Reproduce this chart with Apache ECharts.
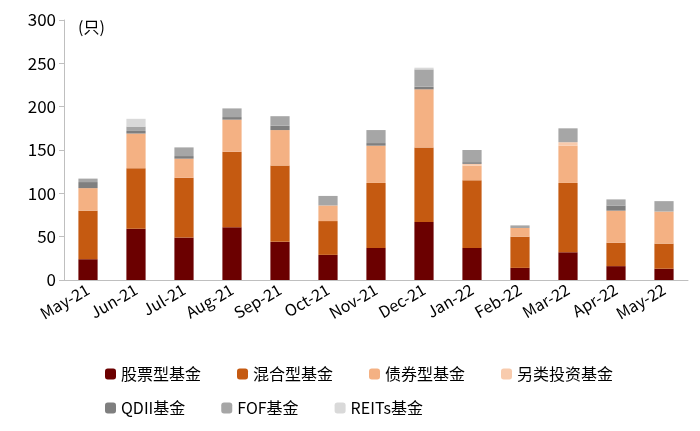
<!DOCTYPE html>
<html><head><meta charset="utf-8">
<script src="https://cdn.jsdelivr.net/npm/echarts@6/dist/echarts.min.js"></script>
<style>html,body{margin:0;padding:0;background:#fff}#c{width:700px;height:431px}</style>
</head><body><div id="c"></div>
<script>
const categories=['May-21','Jun-21','Jul-21','Aug-21','Sep-21','Oct-21','Nov-21','Dec-21','Jan-22','Feb-22','Mar-22','Apr-22','May-22'];
const stock=[24,59,49,61,44,29,37,67,37,14,32,16,13];
const mixed=[56,70,69,87,88,39,75,86,78,36,80,27,29];
const bond=[26,40,22,37,41,18,43,67,17,10,43,37,37];
const other=[0,0,0,0,0,0,0,0,2,0,4,0,0];
const qdii=[7,3,3,3,5,0,3,3,2,0,0,6,0];
const fof=[4,5,10,10,11,11,15,20,14,3,16,7,12];
const reits=[0,9,0,0,0,0,0,2,0,0,0,0,0];
const names=['股票型基金','混合型基金','债券型基金','另类投资基金','QDII基金','FOF基金','REITs基金'];
const colors=['#6B0000','#C55A11','#F4B183','#F8CBAD','#7F7F7F','#A6A6A6','#D9D9D9'];
const data=[stock,mixed,bond,other,qdii,fof,reits];
const font='"Noto Sans CJK SC","Noto Sans",sans-serif';
const chart=echarts.init(document.getElementById('c'));
const lg={itemWidth:11,itemHeight:11,itemGap:36,textStyle:{fontSize:16,color:'#000',fontFamily:font}};
chart.setOption({
  animation:false,
  grid:{left:64,right:12,top:20,bottom:151},
  graphic:[{type:'text',left:78,top:19,style:{text:'(只)',fontSize:16,fill:'#000',fontFamily:font}}],
  legend:[Object.assign({top:361,left:100,data:names.slice(0,4)},lg),
          Object.assign({top:395,left:100,data:names.slice(4)},lg)],
  xAxis:{type:'category',data:categories,
    axisLine:{lineStyle:{color:'#BFBFBF'}},axisTick:{lineStyle:{color:'#BFBFBF'},length:5},
    axisLabel:{rotate:30,fontSize:16,color:'#000',fontFamily:font,interval:0,margin:8}},
  yAxis:{type:'value',min:0,max:300,interval:50,
    axisLine:{show:true,lineStyle:{color:'#BFBFBF'}},axisTick:{show:true,lineStyle:{color:'#BFBFBF'}},
    splitLine:{show:false},
    axisLabel:{fontSize:17,color:'#000',fontFamily:font}},
  series:names.map((n,i)=>({name:n,type:'bar',stack:'a',data:data[i],barWidth:'40%',
    itemStyle:{color:colors[i]}}))
});
</script></body></html>
